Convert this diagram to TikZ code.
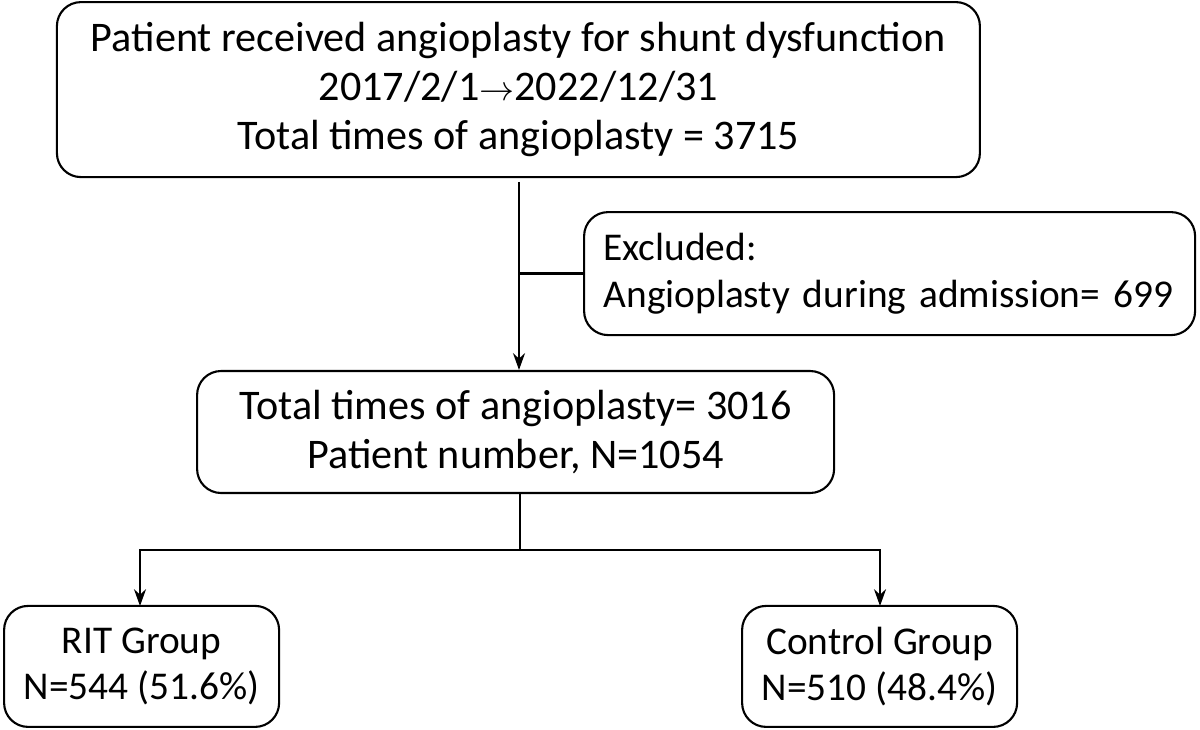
\documentclass[tikz,border=0pt]{standalone}
\usepackage{fontspec}
\setmainfont{Carlito}
\usetikzlibrary{arrows.meta,calc}

\begin{document}
\begin{tikzpicture}[
		box/.style={draw, line width=1.5pt, rounded corners=0.6cm, align=center, inner sep=0pt,
			font=\fontsize{30}{35}\selectfont},
		small/.style={font=\fontsize{28}{33}\selectfont},
		link/.style={line width=1.6pt},
		arr/.style={link, -{Stealth[length=0.42cm, width=0.3cm]}}
	]
	\useasboundingbox (0,0) rectangle (30,-18.25);

	\node[box, minimum width=23.075cm, minimum height=4.375cm] (top) at (12.96,-2.24)
		{Patient received angioplasty for shunt dysfunction\\ 2017/2/1$\rightarrow$2022/12/31\\ Total times of angioplasty = 3715};
	\node[box, small, align=left, minimum width=15.275cm, minimum height=3.075cm, text width=14.3cm] (excl) at (22.24,-6.84)
		{Excluded:\\ Angioplasty during admission= 699};
	\node[box, minimum width=15.925cm, minimum height=3.05cm] (mid) at (12.89,-10.8)
		{Total times of angioplasty= 3016\\ Patient number, N=1054};
	\node[box, small, minimum width=6.875cm, minimum height=3.025cm] (rit) at (3.54,-16.66)
		{RIT Group\\ N=544 (51.6\%)};
	\node[box, small, minimum width=6.875cm, minimum height=3.025cm] (ctrl) at (21.99,-16.66)
		{Control Group\\ N=510 (48.4\%)};

	% connectors
	\coordinate (ta) at (12.975,-4.55);
	\coordinate (split) at (13.0,-13.75);
	\draw[arr] (ta) -- (ta |- mid.north);
	\draw[link] (ta |- excl.west) -- (excl.west);
	\draw[link] (split |- mid.south) -- (split);
	\draw[arr] (split) -| (3.5,-15.15);
	\draw[arr] (split) -| (22.0,-15.15);
\end{tikzpicture}
\end{document}
